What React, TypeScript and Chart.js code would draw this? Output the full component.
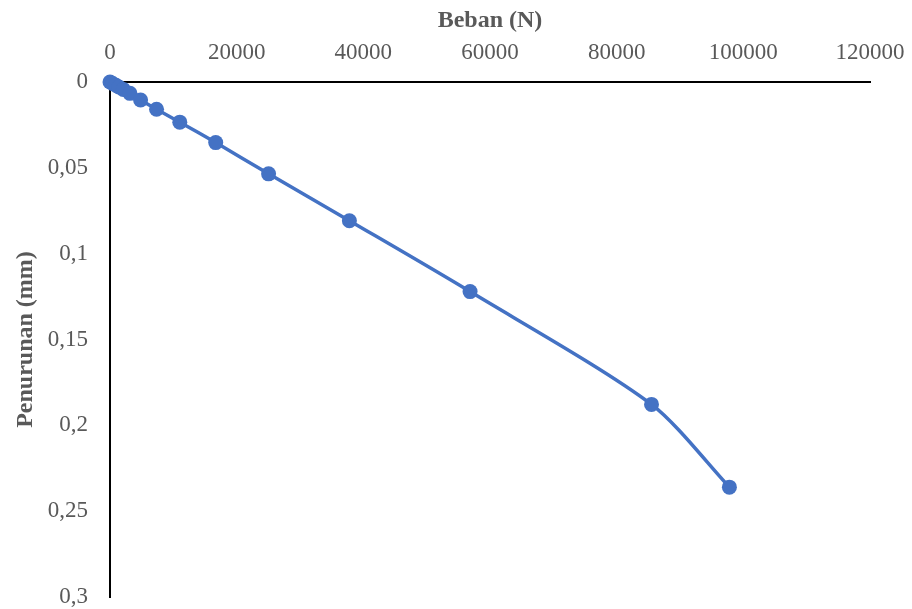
import React, { useEffect, useRef } from "react";
import { Chart, registerables } from "chart.js";

Chart.register(...registerables);

const loadN: number[] = [0, 420, 930, 1400, 2100, 3150, 4830, 7350, 11020, 16690, 25040, 37800, 56850, 85500, 97800];
const settlementMm: number[] = [0, 0.0009, 0.0019, 0.0029, 0.0043, 0.0066, 0.0105, 0.0159, 0.0234, 0.0353, 0.0535, 0.0808, 0.1221, 0.1878, 0.236];
const xTitle = "Beban (N)";
const yTitle = "Penurunan (mm)";

const TEXT = "#595959";
const BLUE = "#4472C4";
const FONT = "'Liberation Serif', 'Times New Roman', serif";

export default function App() {
  const ref = useRef<HTMLCanvasElement | null>(null);

  useEffect(() => {
    if (!ref.current) return;
    const points = loadN.map((x, i) => ({ x, y: settlementMm[i] }));
    const chart = new Chart(ref.current, {
      type: "scatter",
      data: {
        datasets: [
          {
            data: points,
            showLine: true,
            borderColor: BLUE,
            backgroundColor: BLUE,
            borderWidth: 3.5,
            pointRadius: 7.5,
            pointHoverRadius: 7.5,
            pointBorderWidth: 0,
            tension: 0.27,
            clip: false as any,
          },
        ],
      },
      options: {
        animation: false,
        responsive: true,
        maintainAspectRatio: false,
        layout: { padding: { left: 0, top: 0, right: 42, bottom: 12 } },
        plugins: { legend: { display: false }, tooltip: { enabled: false } },
        scales: {
          x: {
            type: "linear",
            position: "top",
            min: 0,
            max: 120000,
            grid: { display: false, drawTicks: false },
            border: { display: true, color: "#000", width: 2 },
            ticks: {
              stepSize: 20000,
              color: TEXT,
              padding: 18,
              font: { family: FONT, size: 23, lineHeight: 1 },
              callback: (v: any) => String(v),
            },
            title: {
              display: true,
              text: xTitle,
              color: TEXT,
              padding: { top: 6, bottom: 0 },
              font: { family: FONT, size: 24, weight: "bold", lineHeight: 1.2 },
            },
            afterFit: (s: any) => {
              s.height = 82;
              s.paddingLeft = 0;
              s.paddingRight = 0;
            },
          },
          y: {
            type: "linear",
            reverse: true,
            min: 0,
            max: 0.3,
            grid: { display: false, drawTicks: false },
            border: { display: true, color: "#000", width: 2 },
            ticks: {
              stepSize: 0.05,
              color: TEXT,
              padding: 22,
              font: { family: FONT, size: 23, lineHeight: 1 },
              callback: (v: any) => String(Math.round(Number(v) * 100) / 100).replace(".", ","),
            },
            title: {
              display: true,
              text: yTitle,
              color: TEXT,
              padding: { top: 11, bottom: 0 },
              font: { family: FONT, size: 24, weight: "bold", lineHeight: 1.2 },
            },
            afterFit: (s: any) => {
              s.width = 110;
              s.paddingTop = 0;
              s.paddingBottom = 0;
            },
          },
        },
      },
    });
    return () => chart.destroy();
  }, []);

  return (
    <div style={{ position: "fixed", left: 0, top: 0, width: 912, height: 609, background: "#fff" }}>
      <canvas ref={ref} />
    </div>
  );
}
